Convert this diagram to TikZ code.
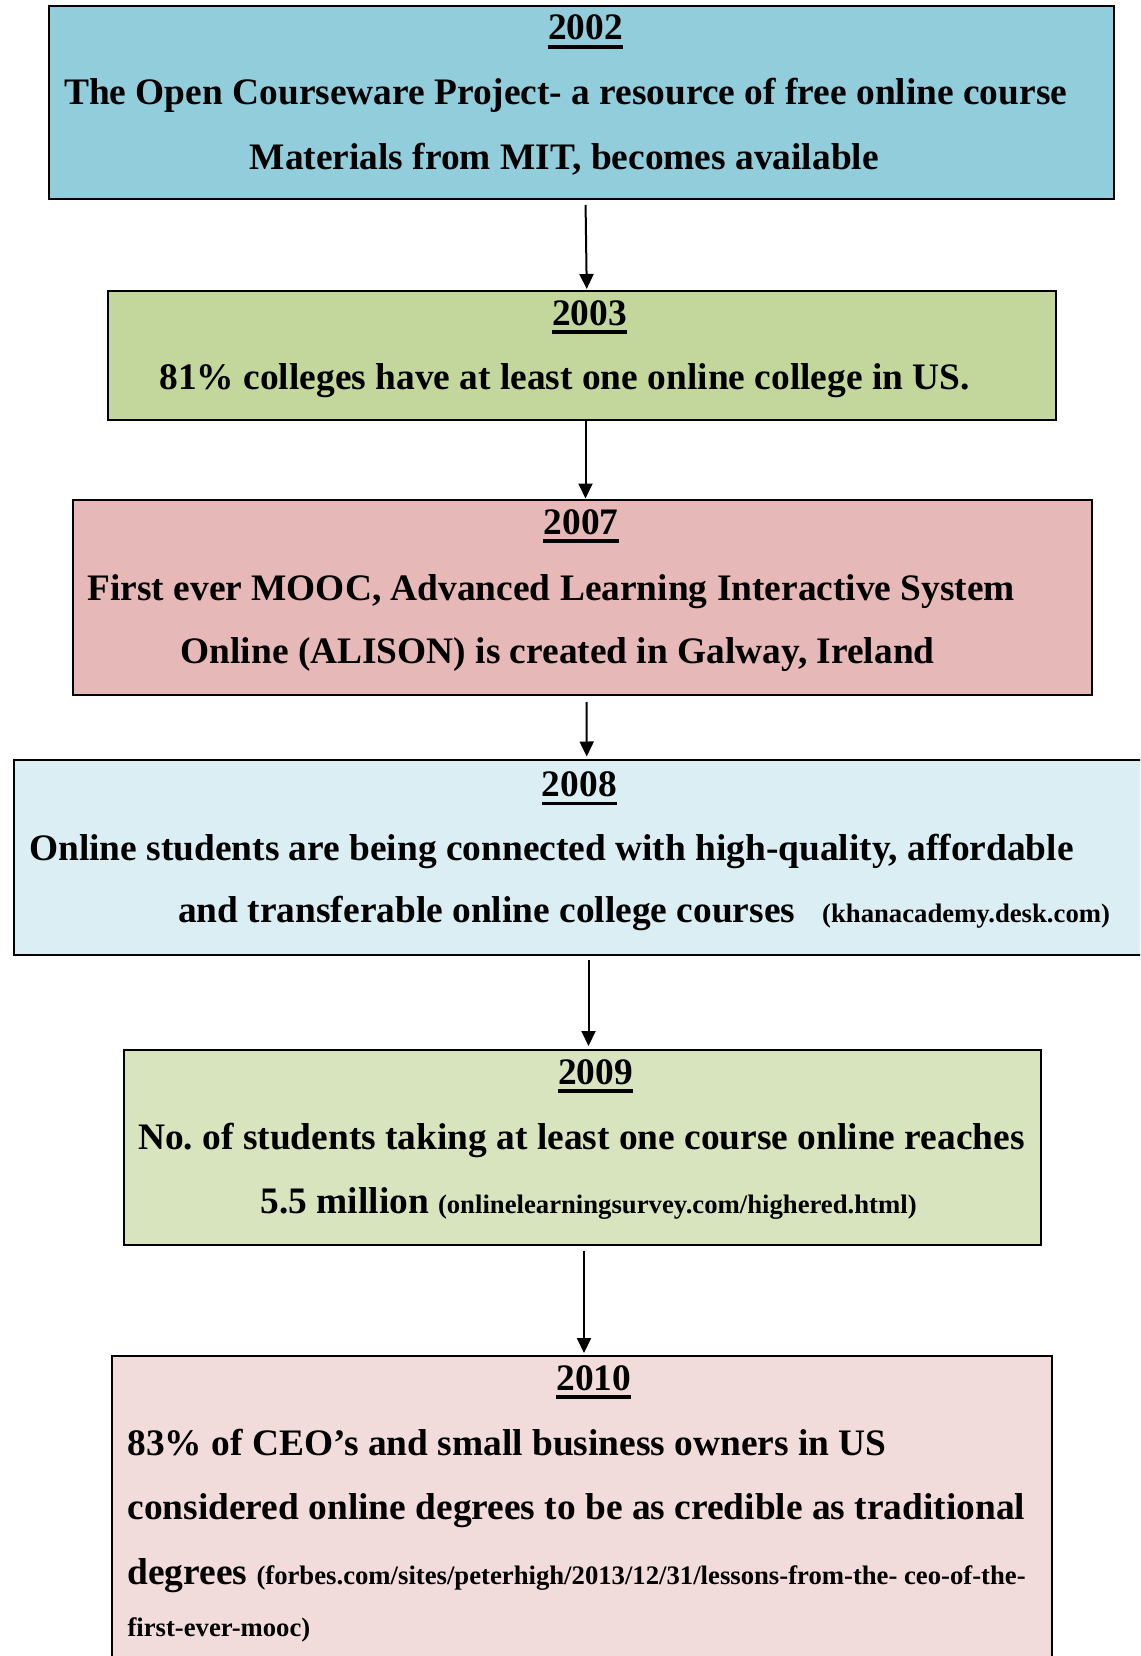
\documentclass[tikz,border=0pt]{standalone}
\usepackage{fontspec}
\setmainfont{Liberation Serif}
\usetikzlibrary{arrows.meta}

% Box fills
\definecolor{cAqua}{HTML}{92CDDC}
\definecolor{cOlive}{HTML}{C3D69B}
\definecolor{cRose}{HTML}{E6B9B8}
\definecolor{cPaleAqua}{HTML}{DBEEF4}
\definecolor{cPaleOlive}{HTML}{D7E4BD}
\definecolor{cPaleRose}{HTML}{F2DCDB}

% Text sizes
\newcommand\evtfont{\frenchspacing\fontsize{37.4}{44}\selectfont\bfseries}
\newcommand\srcfont{\frenchspacing\fontsize{26.7}{32}\selectfont\bfseries}

\begin{document}
\begin{tikzpicture}[x=1pt,y=-1pt,
  evbox/.style={draw=black, line width=2pt, rectangle, inner sep=0pt},
  yearlbl/.style={inner sep=0pt, anchor=base, font=\evtfont},
  linetxt/.style={inner sep=0pt, anchor=base west, font=\evtfont},
  srctxt/.style={inner sep=0pt, anchor=base west, font=\srcfont},
  flow/.style={line width=2pt, -{Triangle[length=15pt,width=14pt]}}
]
\useasboundingbox (0,0) rectangle (1140,1656);
\clip (0,0) rectangle (1140,1656);

% Underline below a year label
\newcommand\yrrule[1]{\fill ([yshift=-5pt]#1.base west) rectangle ([yshift=-8.7pt]#1.base east);}

% ---- boxes ----
\node[evbox, fill=cAqua, minimum width=1065pt, minimum height=192.5pt] (b2002) at (581.5,102.75) {};
\node[evbox, fill=cOlive, minimum width=947.5pt, minimum height=129pt] (b2003) at (581.75,355) {};
\node[evbox, fill=cRose, minimum width=1019pt, minimum height=194.5pt] (b2007) at (582,597.25) {};
\node[evbox, fill=cPaleAqua, minimum width=1146.5pt, minimum height=195pt] (b2008) at (586.75,857) {};
\node[evbox, fill=cPaleOlive, minimum width=917pt, minimum height=194.5pt] (b2009) at (582.5,1147.25) {};
\node[evbox, fill=cPaleRose, minimum width=940pt, minimum height=364pt] (b2010) at (582,1538) {};

% ---- 2002 ----
\node[yearlbl] (y2002) at (585.5,40) {2002}; \yrrule{y2002}
\node[linetxt] (t2002a) at (64,105) {The Open Courseware Project- a resource of free online course};
\node[linetxt] (t2002b) at (249.5,169.5) {Materials from MIT, becomes available};

% ---- 2003 ----
\node[yearlbl] (y2003) at (589.5,325) {2003}; \yrrule{y2003}
\node[linetxt] (t2003a) at (159.3,389) {81\% colleges have at least one online college in US.};

% ---- 2007 ----
\node[yearlbl] (y2007) at (581,534.3) {2007}; \yrrule{y2007}
\node[linetxt] (t2007a) at (87.3,600) {First ever MOOC, Advanced Learning Interactive System};
\node[linetxt] (t2007b) at (180.4,663.3) {Online (ALISON) is created in Galway, Ireland};

% ---- 2008 ----
\node[yearlbl] (y2008) at (579.3,796.7) {2008}; \yrrule{y2008}
\node[linetxt] (t2008a) at (29,860) {Online students are being connected with high-quality, affordable};
\node[linetxt] (t2008b) at (178,922.7) {and transferable online college courses};
\node[srctxt] (s2008) at (822,922.7) {(khanacademy.desk.com)};

% ---- 2009 ----
\node[yearlbl] (y2009) at (595.6,1084.3) {2009}; \yrrule{y2009}
\node[linetxt] (t2009a) at (138,1149) {No.\ of students taking at least one course online reaches};
\node[linetxt] (t2009b) at (260.4,1213.3) {5.5 million};
\node[srctxt] (s2009) at (437.8,1213.3) {(onlinelearningsurvey.com/highered.html)};

% ---- 2010 ----
\node[yearlbl] (y2010) at (593.8,1390) {2010}; \yrrule{y2010}
\node[linetxt] (t2010a) at (127.3,1455) {83\% of CEO’s and small business owners in US};
\node[linetxt] (t2010b) at (127.3,1519) {considered online degrees to be as credible as traditional};
\node[linetxt] (t2010c) at (127.3,1584) {degrees};
\node[srctxt] (s2010a) at (256.3,1584) {(forbes.com/sites/peterhigh/2013/12/31/lessons-from-the- ceo-of-the-};
\node[srctxt] (s2010b) at (127.3,1636.7) {first-ever-mooc)};

% ---- connectors ----
\draw[flow, shorten <=5pt, shorten >=0.5pt] ([xshift=4pt]b2002.south) -- ([xshift=5pt]b2003.north);
\draw[flow, shorten >=0.5pt] ([xshift=3.75pt]b2003.south) -- ([xshift=3.5pt]b2007.north);
\draw[flow, shorten <=6.5pt, shorten >=2pt] ([xshift=4.5pt]b2007.south) -- ([xshift=0pt]b2008.north);
\draw[flow, shorten <=4.5pt, shorten >=3pt] ([xshift=1.75pt]b2008.south) -- ([xshift=6pt]b2009.north);
\draw[flow, shorten <=5pt, shorten >=2pt] ([xshift=1.5pt]b2009.south) -- ([xshift=2pt]b2010.north);
\end{tikzpicture}
\end{document}
